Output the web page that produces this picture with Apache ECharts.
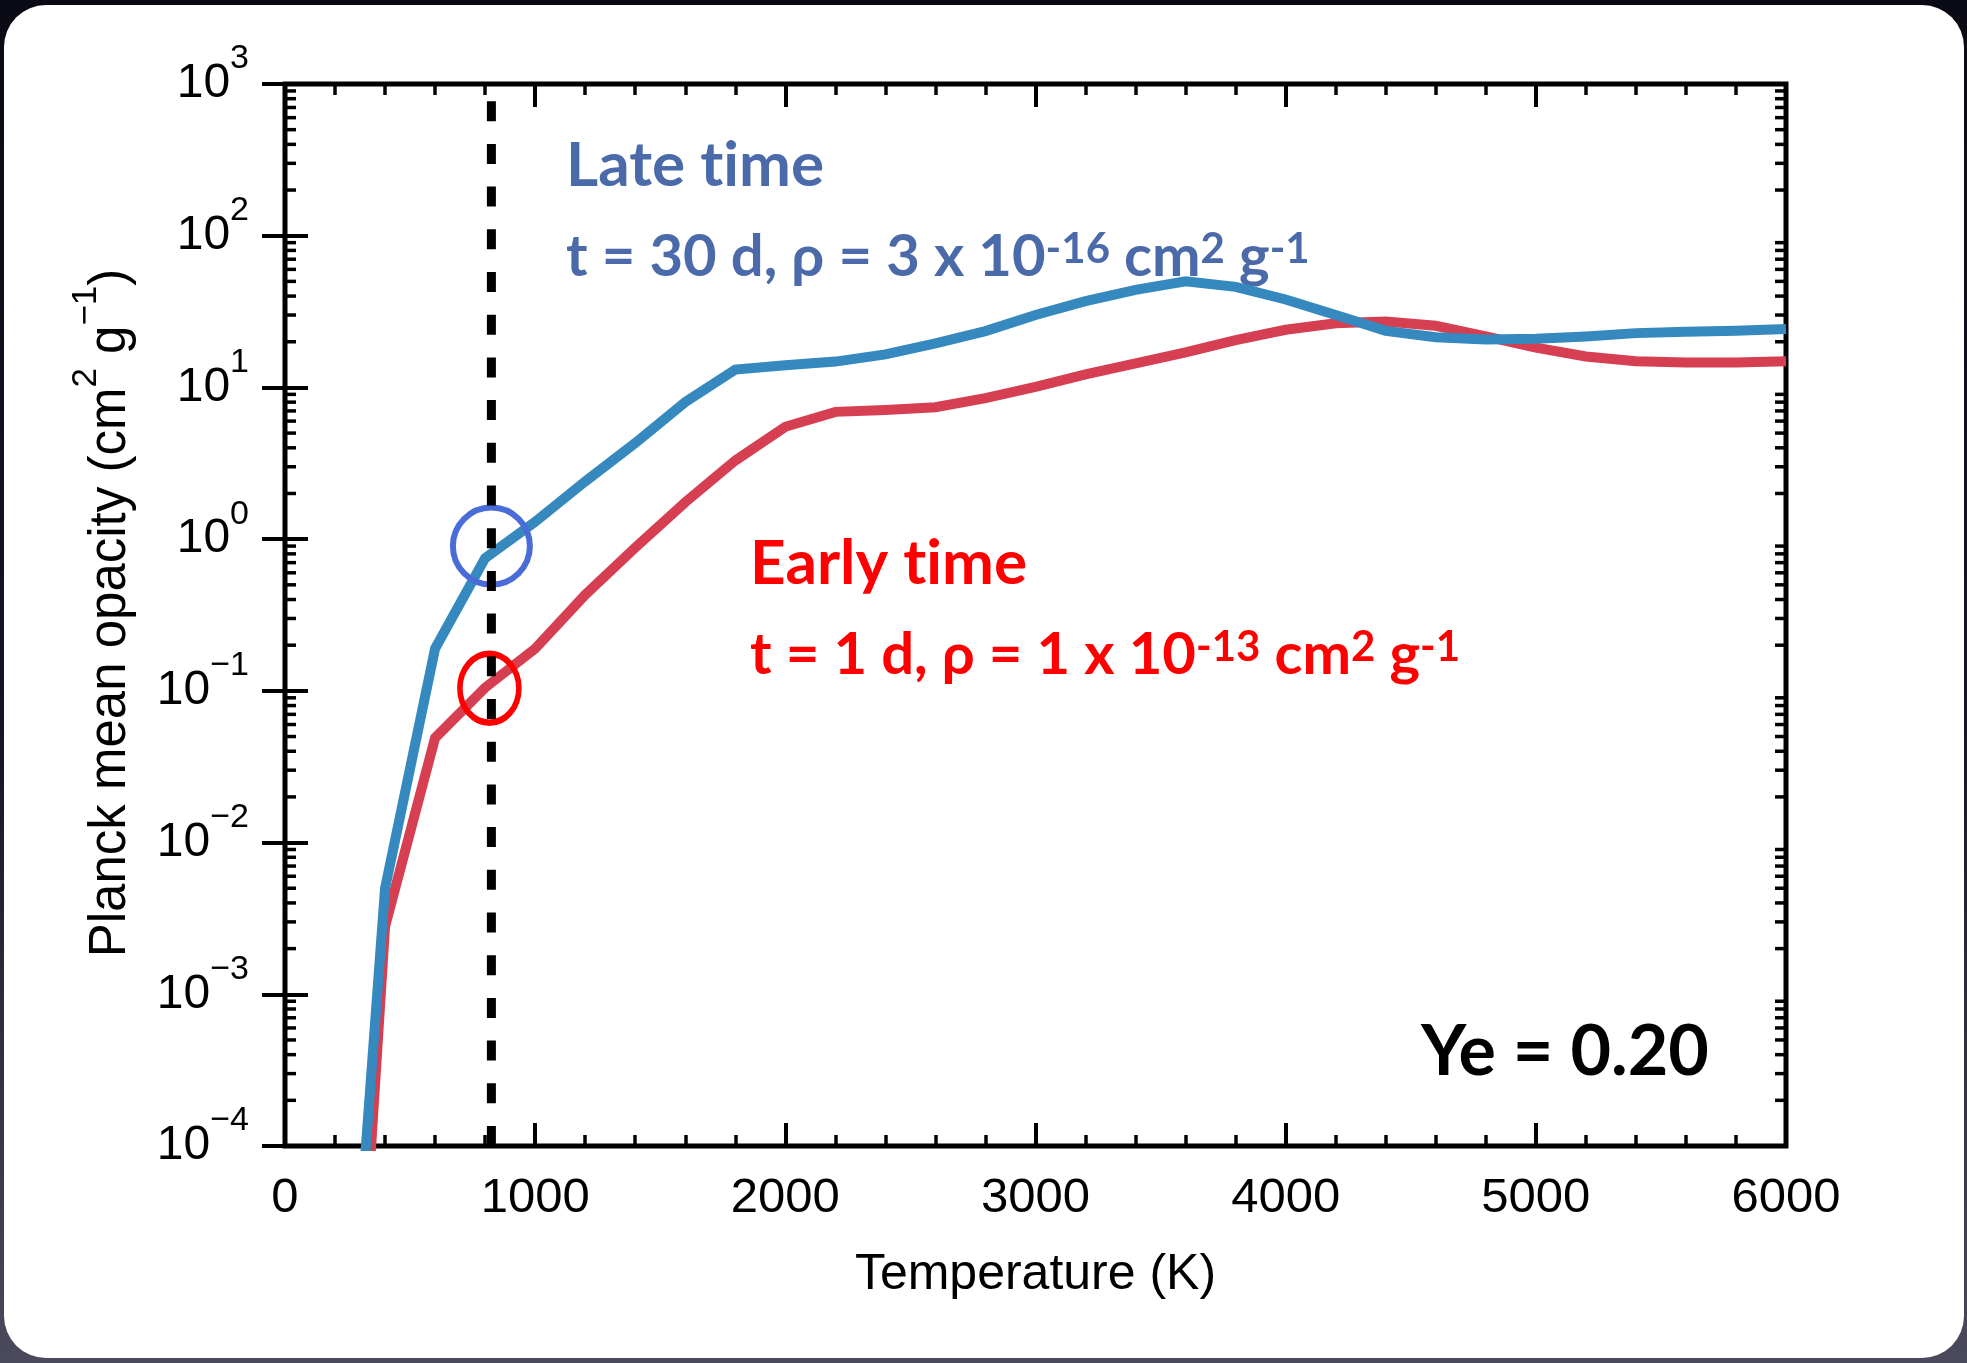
<!DOCTYPE html>
<html>
<head>
<meta charset="utf-8">
<title>Planck mean opacity vs temperature</title>
<script src="https://cdn.jsdelivr.net/npm/echarts@6/dist/echarts.min.js"></script>
<style>
  html, body {
    margin: 0; padding: 0; width: 1967px; height: 1363px; overflow: hidden;
    background: linear-gradient(to bottom, #0a0a14 0%, #161624 55%, #4a4a5c 100%);
  }
  #panel {
    position: absolute; left: 4px; top: 5px; width: 1960px; height: 1353px;
    background: #ffffff; border-radius: 42px;
  }
  #chart { position: absolute; left: 0; top: 0; width: 1967px; height: 1363px; }
</style>
</head>
<body>
<div id="panel"></div>
<div id="chart"></div>
<script>
// Temperature grid (K)
const temperature = [300, 400, 600, 800, 1000, 1200, 1400, 1600, 1800, 2000,
  2200, 2400, 2600, 2800, 3000, 3200, 3400, 3600, 3800, 4000,
  4200, 4400, 4600, 4800, 5000, 5200, 5400, 5600, 5800, 6000];

// Late time: t = 30 d, rho = 3e-16
const lateOpacity = [3e-5, 0.005, 0.19, 0.75, 1.3, 2.4, 4.3, 8.0, 13.1, 14.0,
  14.8, 16.5, 19.5, 23.5, 30, 37, 44, 50, 46, 38,
  30, 23.6, 21.4, 20.7, 20.9, 21.7, 22.8, 23.3, 23.6, 24.3];

// Early time: t = 1 d, rho = 1e-13
const earlyOpacity = [7e-6, 0.0028, 0.049, 0.105, 0.19, 0.43, 0.88, 1.75, 3.3, 5.5,
  6.9, 7.1, 7.4, 8.5, 10.1, 12.2, 14.4, 17.0, 20.5, 24,
  26.5, 27.2, 25.5, 21.7, 18.3, 16.0, 14.9, 14.6, 14.6, 14.9];

// Vertical reference temperature and the highlighted points on it
const referenceTemperature = 825;
const lateHighlight = [825, 0.9];
const earlyHighlight = [817, 0.104];

// Axis ranges
const xRange = [0, 6000];
const xStep = 1000;
const yRange = [1e-4, 1e3];
const logMinorMultipliers = [2, 3, 4, 5, 6, 7, 8, 9];

const BLUE_LINE = '#3689BE';
const RED_LINE = '#D63E51';
const BLUE_TEXT = '#4A6AA9';
const RED_TEXT = '#FF0000';
const BLUE_RING = '#4A6CD8';
const RED_RING = '#FF0000';

const AXIS_FONT = '"Liberation Sans", Arial, Helvetica, sans-serif';
const NOTE_FONT = 'Lato, "Open Sans", sans-serif';
const ZWNJ = '\u200C'; // keeps "t" and "i" as separate glyphs

// minor tick positions for the log axis: 2..9 x 10^k
const minorTickValues = [];
for (let k = Math.round(Math.log10(yRange[0])); k < Math.round(Math.log10(yRange[1])); k++) {
  logMinorMultipliers.forEach(function (m) { minorTickValues.push([xRange[0], m * Math.pow(10, k)]); });
}

function pairs(xs, ys) { return xs.map(function (x, i) { return [x, ys[i]]; }); }

function powerLabel(v) {
  const e = Math.round(Math.log10(v));
  return '{b|10}{e|' + (e < 0 ? '\u2212' + (-e) : String(e)) + '}';
}

// bold note text: main run plus raised superscript run
const noteRich = function (color, mainSize, supSize) {
  return {
    m: { fill: color, fontFamily: NOTE_FONT, fontWeight: 'bold', fontSize: mainSize, lineHeight: mainSize, verticalAlign: 'top' },
    s: { fill: color, fontFamily: NOTE_FONT, fontWeight: 'bold', fontSize: supSize, lineHeight: supSize, verticalAlign: 'top' }
  };
};

const chart = echarts.init(document.getElementById('chart'), null, { renderer: 'canvas' });

const tickStyle = { color: '#000', width: 4 };
const minorStyle = { color: '#000', width: 3.5 };

chart.setOption({
  backgroundColor: 'transparent',
  animation: false,
  grid: {
    left: 285, top: 84, width: 1501, height: 1062,
    show: true, borderColor: '#000', borderWidth: 5, backgroundColor: 'transparent',
    containLabel: false
  },
  xAxis: [
    {
      type: 'value', position: 'bottom', min: xRange[0], max: xRange[1], interval: xStep,
      axisLine: { show: false },
      axisTick: { show: true, inside: true, length: 23, lineStyle: tickStyle },
      minorTick: { show: true, splitNumber: 5, length: 11, lineStyle: minorStyle },
      splitLine: { show: false },
      axisLabel: {
        show: true, margin: 28, fontSize: 49, lineHeight: 49, color: '#000', fontFamily: AXIS_FONT,
        formatter: function (v) { return String(v); }
      },
      name: 'Temperature (K)', nameLocation: 'middle', nameGap: 104,
      nameTextStyle: { fontSize: 50, lineHeight: 50, color: '#000', fontFamily: AXIS_FONT }
    },
    {
      type: 'value', position: 'top', min: xRange[0], max: xRange[1], interval: xStep,
      axisLine: { show: false },
      axisTick: { show: true, inside: true, length: 23, lineStyle: tickStyle },
      minorTick: { show: true, splitNumber: 5, length: 11, lineStyle: minorStyle },
      splitLine: { show: false },
      axisLabel: { show: false }
    }
  ],
  yAxis: [
    {
      type: 'log', logBase: 10, position: 'left', min: yRange[0], max: yRange[1],
      axisLine: { show: false },
      axisTick: { show: true, inside: true, length: 23, lineStyle: tickStyle },
      splitLine: { show: false },
      axisLabel: {
        show: true, margin: 36, align: 'right', formatter: powerLabel,
        rich: {
          b: { fontSize: 48, lineHeight: 84, verticalAlign: 'middle', color: '#000', fontFamily: AXIS_FONT },
          e: { fontSize: 34, lineHeight: 34, verticalAlign: 'top', color: '#000', fontFamily: AXIS_FONT }
        }
      }
    },
    {
      type: 'log', logBase: 10, position: 'right', min: yRange[0], max: yRange[1],
      axisLine: { show: false },
      axisTick: { show: true, inside: true, length: 23, lineStyle: tickStyle },
      splitLine: { show: false },
      axisLabel: { show: false }
    }
  ],
  series: [
    {
      // minor ticks of the log axis on both the left and right frame edges
      type: 'custom', xAxisIndex: 0, yAxisIndex: 0, silent: true, z: 6,
      data: minorTickValues,
      renderItem: function (params, api) {
        const v = api.value(1);
        const l = api.coord([xRange[0], v]);
        const r = api.coord([xRange[1], v]);
        const st = { stroke: '#000', lineWidth: 3.5 };
        return {
          type: 'group',
          children: [
            { type: 'line', shape: { x1: l[0], y1: l[1], x2: l[0] + 11, y2: l[1] }, style: st },
            { type: 'line', shape: { x1: r[0], y1: r[1], x2: r[0] - 11, y2: r[1] }, style: st }
          ]
        };
      }
    },
    {
      name: 'Early time', type: 'line', z: 2, showSymbol: false, clip: true,
      data: pairs(temperature, earlyOpacity),
      lineStyle: { color: RED_LINE, width: 10, join: 'miter' }
    },
    {
      name: 'Late time', type: 'line', z: 3, showSymbol: false, clip: true,
      data: pairs(temperature, lateOpacity),
      lineStyle: { color: BLUE_LINE, width: 10, join: 'miter' }
    },
    {
      type: 'scatter', z: 4, silent: true,
      data: [lateHighlight],
      symbol: 'circle', symbolSize: [77, 77],
      itemStyle: { color: 'rgba(0,0,0,0)', borderColor: BLUE_RING, borderWidth: 6, opacity: 1 }
    },
    {
      type: 'scatter', z: 4, silent: true,
      data: [earlyHighlight],
      symbol: 'circle', symbolSize: [59, 69],
      itemStyle: { color: 'rgba(0,0,0,0)', borderColor: RED_RING, borderWidth: 6, opacity: 1 }
    },
    {
      type: 'line', z: 5, silent: true, showSymbol: false,
      data: [[referenceTemperature, yRange[0]], [referenceTemperature, yRange[1]]],
      lineStyle: { color: '#000', width: 9, type: [20, 22.7], cap: 'butt' }
    }
  ],
  graphic: [
    {
      type: 'text', x: 111, y: 613, rotation: Math.PI / 2, silent: true,
      style: {
        text: '{m|Planck mean opacity (cm}{s|2}{m| g}{s|\u22121}{m|)}',
        align: 'center', verticalAlign: 'middle',
        rich: {
          m: { fill: '#000', fontFamily: AXIS_FONT, fontSize: 51, lineHeight: 84, verticalAlign: 'middle' },
          s: { fill: '#000', fontFamily: AXIS_FONT, fontSize: 35, lineHeight: 34, verticalAlign: 'top' }
        }
      }
    },
    {
      type: 'text', x: 566, y: 166, silent: true,
      style: { text: '{m|Late t' + ZWNJ + 'ime}', align: 'left', verticalAlign: 'middle', rich: noteRich(BLUE_TEXT, 62, 42) }
    },
    {
      type: 'text', x: 566, y: 257, silent: true,
      style: {
        text: '{m|t = 30 d, \u03C1 = 3 x 10}{s|-16}{m| cm}{s|2}{m| g}{s|-1}',
        align: 'left', verticalAlign: 'middle', rich: noteRich(BLUE_TEXT, 58, 42)
      }
    },
    {
      type: 'text', x: 750, y: 564, silent: true,
      style: { text: '{m|Early t' + ZWNJ + 'ime}', align: 'left', verticalAlign: 'middle', rich: noteRich(RED_TEXT, 62, 42) }
    },
    {
      type: 'text', x: 750, y: 655, silent: true,
      style: {
        text: '{m|t = 1 d, \u03C1 = 1 x 10}{s|-13}{m| cm}{s|2}{m| g}{s|-1}',
        align: 'left', verticalAlign: 'middle', rich: noteRich(RED_TEXT, 58, 42)
      }
    },
    {
      type: 'text', x: 1421, y: 1052, silent: true,
      style: {
        text: 'Ye = 0.20', align: 'left', verticalAlign: 'middle',
        fill: '#000', fontFamily: NOTE_FONT, fontWeight: 'bold', fontSize: 70
      }
    }
  ]
});
</script>
</body>
</html>
